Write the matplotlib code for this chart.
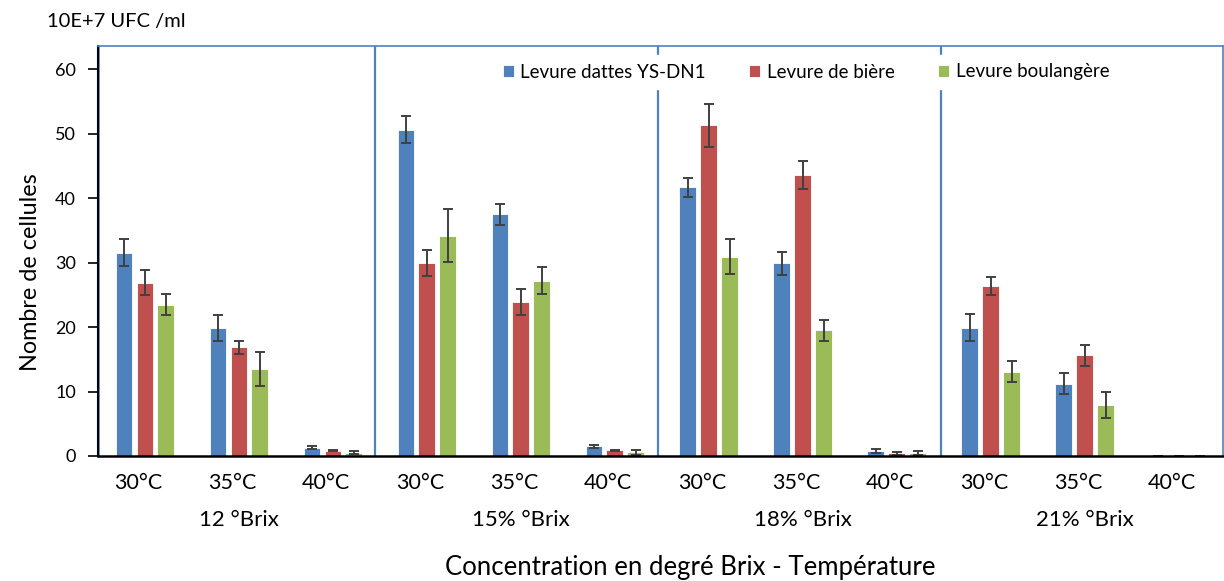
import matplotlib
matplotlib.use("Agg")
import matplotlib.pyplot as plt
import matplotlib.transforms as mtransforms
import numpy as np

plt.rcParams['font.family'] = ['Lato', 'DejaVu Sans']

temps = ["30°C", "35°C", "40°C"] * 4
brix_labels = ["12 °Brix", "15% °Brix", "18% °Brix", "21% °Brix"]
series_names = ["Levure dattes YS-DN1", "Levure de bière", "Levure boulangère"]

dattes = [31.5, 19.9, 1.3, 50.6, 37.5, 1.5, 41.7, 29.9, 0.8, 19.9, 11.2, 0.0]
biere = [26.9, 16.9, 0.8, 29.9, 23.9, 0.9, 51.3, 43.6, 0.4, 26.4, 15.6, 0.0]
boul = [23.5, 13.5, 0.5, 34.2, 27.2, 0.6, 30.9, 19.5, 0.5, 13.1, 7.9, 0.0]

err_dattes = [2.1, 2.0, 0.2, 2.1, 1.6, 0.2, 1.5, 1.8, 0.3, 2.1, 1.6, 0.0]
err_biere = [2.0, 1.0, 0.1, 2.0, 2.0, 0.1, 3.3, 2.2, 0.2, 1.4, 1.6, 0.0]
err_boul = [1.6, 2.6, 0.2, 4.1, 2.1, 0.4, 2.7, 1.6, 0.3, 1.6, 2.0, 0.0]

colors = ["#4F81BD", "#C0504D", "#9BBB59"]
frame_blue = "#4F81BD"

W, H = 1224, 581
fig = plt.figure(figsize=(W / 100, H / 100), dpi=100)
ax = fig.add_axes([98 / W, 1 - 456 / H, (1223 - 98) / W, (456 - 46) / H])

x = np.arange(len(temps))
width = 0.18
offs = [-0.223, 0.0, 0.223]
all_vals = [dattes, biere, boul]
all_errs = [err_dattes, err_biere, err_boul]
handles = []
for vals, errs, off, col, name in zip(all_vals, all_errs, offs, colors, series_names):
    b = ax.bar(x + off, vals, width, color=col, label=name, zorder=2,
               edgecolor='white', linewidth=0.6)
    handles.append(b)
    ax.errorbar(x + off, vals, yerr=errs, fmt='none', ecolor='#404040',
                elinewidth=1.4, capsize=3.5, capthick=1.4, zorder=3)

ax.set_xlim(-0.5, 11.47)
ax.set_ylim(0, 63.6)
ax.set_yticks([0, 10, 20, 30, 40, 50, 60])
ax.tick_params(axis='y', direction='out', length=7, width=1.2, labelsize=13, pad=9, colors='black')
ax.set_xticks(x)
ax.set_xticklabels(temps, fontsize=15.5)
ax.tick_params(axis='x', length=0, pad=12)
shift = mtransforms.ScaledTranslation(-7 / 100, 0, fig.dpi_scale_trans)
for lab in ax.get_xticklabels():
    lab.set_transform(lab.get_transform() + shift)

for s in ['top', 'right']:
    ax.spines[s].set_color(frame_blue)
    ax.spines[s].set_linewidth(1.2)
ax.spines['left'].set_color('black')
ax.spines['left'].set_linewidth(1.5)
ax.spines['bottom'].set_color('black')
ax.spines['bottom'].set_linewidth(1.8)
ax.spines['bottom'].set_zorder(4)

for sep in [2.45, 5.46, 8.47]:
    ax.axvline(sep, color=frame_blue, linewidth=1.6, zorder=1)
ax.axvline(-0.49, color=frame_blue, linewidth=1.2, zorder=1)

brix_pos = [1, 4, 7, 10]
for bp, lab in zip(brix_pos, brix_labels):
    ax.text(bp, -0.155, lab, transform=ax.get_xaxis_transform(), ha='center',
            va='center', fontsize=16)

fig.text(31 / W, 1 - 272 / H, "Nombre de cellules", rotation=90,
         ha='center', va='center', fontsize=16.8)
fig.text(690 / W, 1 - 568 / H, "Concentration en degré Brix - Température",
         ha='center', va='center', fontsize=18.5)
fig.text(47 / W, 1 - 22 / H, "10E+7 UFC /ml", ha='left', va='center', fontsize=14.5)

leg = ax.legend(handles=handles, ncol=3, loc='center',
                fontsize=13.5, frameon=True, handlelength=0.6, handleheight=0.6,
                columnspacing=2.3, handletextpad=0.35, borderpad=0.45)
leg.set_bbox_to_anchor((806 / W, 1 - 72 / H), transform=fig.transFigure)
leg.get_frame().set_facecolor('white')
leg.get_frame().set_edgecolor('white')
leg.get_frame().set_alpha(1.0)
leg.set_zorder(5)

fig.savefig("out.png", dpi=100)
